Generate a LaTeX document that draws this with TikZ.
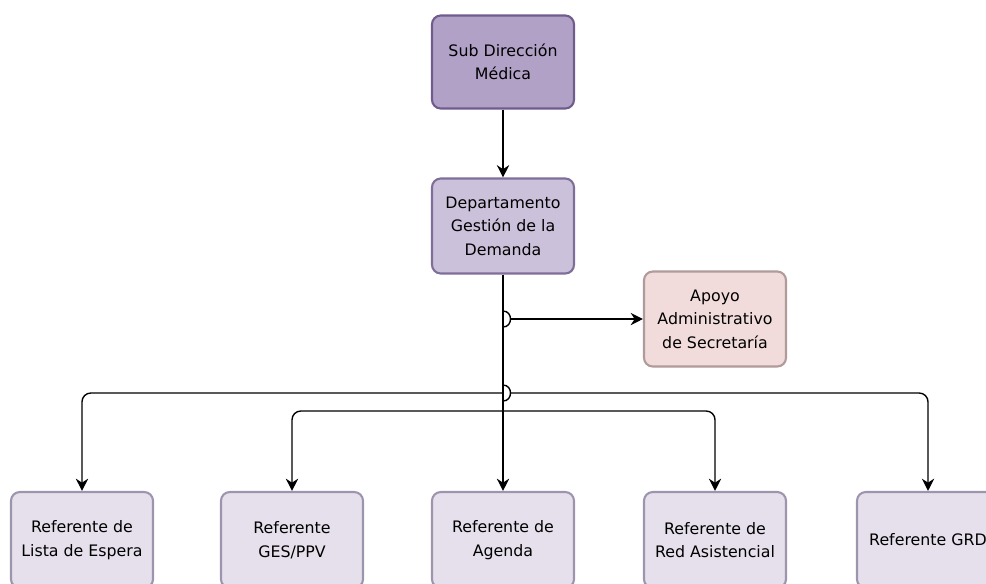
\documentclass[tikz,border=0pt]{standalone}
\usepackage{fontspec}
\setmainfont{DejaVu Sans}
\usetikzlibrary{arrows.meta,calc}

\definecolor{subfill}{HTML}{B2A1C7}
\definecolor{subline}{HTML}{6F5B8C}
\definecolor{depfill}{HTML}{CCC1DA}
\definecolor{depline}{HTML}{7F6E99}
\definecolor{apofill}{HTML}{F2DCDB}
\definecolor{apoline}{HTML}{B09A9A}
\definecolor{reffill}{HTML}{E5E0EC}
\definecolor{refline}{HTML}{9E94AD}

\begin{document}
\begin{tikzpicture}[x=0.02cm, y=-0.02cm,
  box/.style={rounded corners=5pt, line width=1.2pt, minimum width=142*0.02cm,
    align=center, font=\fontsize{9}{13.4}\selectfont, inner sep=0pt},
  arr/.style={-{Stealth[length=7pt,width=7pt]}, line width=0.8pt},
  hop/.style={line width=0.8pt}]
  % Keep the page the size of the picture
  \useasboundingbox (0,0) rectangle (986,583);

  % Top of the chart
  \node[box, fill=subfill, draw=subline, minimum height=93*0.02cm] (sub) at (503,62) {Sub Dirección\\Médica};
  \node[box, fill=depfill, draw=depline, minimum height=95*0.02cm] (dep) at (503,226) {Departamento\\Gestión de la\\Demanda};
  \node[box, fill=apofill, draw=apoline, minimum height=95*0.02cm] (apoyo) at (715,319) {Apoyo\\Administrativo\\de Secretaría};

  % Bottom row
  \node[box, fill=reffill, draw=refline, minimum height=96*0.02cm] (lista) at (82,540) {Referente de\\Lista de Espera};
  \node[box, fill=reffill, draw=refline, minimum height=96*0.02cm] (ges) at (292,540) {Referente\\GES/PPV};
  \node[box, fill=reffill, draw=refline, minimum height=96*0.02cm] (agenda) at (503,540) {Referente de\\Agenda};
  \node[box, fill=reffill, draw=refline, minimum height=96*0.02cm] (red) at (715,540) {Referente de\\Red Asistencial};
  \node[box, fill=reffill, draw=refline, minimum height=96*0.02cm] (grd) at (928,540) {Referente GRD};

  % Branch points on the trunk
  \coordinate (ja) at (503,319);
  \coordinate (jo) at (503,393);
  \coordinate (ji) at (503,411);

  % Connectors
  \draw[arr] (sub) -- (dep);
  \draw[arr] (dep) -- (agenda);
  \draw[hop] ($(ja)+(0,-8)$) .. controls +(10,0) and +(10,0) .. ($(ja)+(0,8)$);
  \draw[arr] ($(ja)+(7,0)$) -- (apoyo.west |- ja);
  \draw[arr, rounded corners=5pt] (jo) -| (lista);
  \draw[hop] ($(jo)+(0,-8)$) .. controls +(10,0) and +(10,0) .. ($(jo)+(0,8)$);
  \draw[arr, rounded corners=5pt] ($(jo)+(7,0)$) -| (grd);
  \draw[arr, rounded corners=5pt] (ji) -| (ges);
  \draw[arr, rounded corners=5pt] (ji) -| (red);
\end{tikzpicture}
\end{document}
